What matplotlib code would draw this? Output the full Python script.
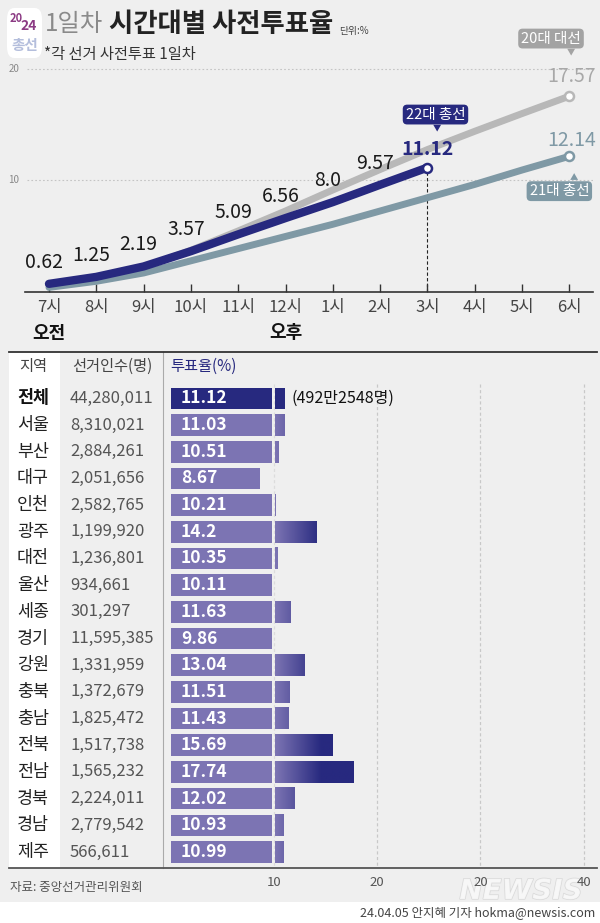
import numpy as np
import matplotlib
matplotlib.use('Agg')
import matplotlib.pyplot as plt
from matplotlib import transforms
from matplotlib.colors import LinearSegmentedColormap, Normalize
from matplotlib.patches import Rectangle, FancyBboxPatch
from matplotlib.lines import Line2D
import matplotlib.patheffects as pe

plt.rcParams['font.family'] = ['Noto Sans CJK KR', 'DejaVu Sans']

# 시간대별 사전투표율 (1일차, %)
hours = ['7시', '8시', '9시', '10시', '11시', '12시', '1시', '2시', '3시', '4시', '5시', '6시']
turnout_22 = [0.62, 1.25, 2.19, 3.57, 5.09, 6.56, 8.0, 9.57, 11.12]
turnout_20 = [0.55, 1.15, 2.1, 3.65, 5.4, 7.2, 9.1, 10.95, 12.75, 14.4, 16.0, 17.57]
turnout_21 = [0.3, 0.85, 1.6, 2.7, 3.8, 4.9, 6.0, 7.2, 8.4, 9.6, 10.9, 12.14]

# 지역별
regions = ['전체', '서울', '부산', '대구', '인천', '광주', '대전', '울산', '세종',
           '경기', '강원', '충북', '충남', '전북', '전남', '경북', '경남', '제주']
electors = [44280011, 8310021, 2884261, 2051656, 2582765, 1199920, 1236801, 934661, 301297,
            11595385, 1331959, 1372679, 1825472, 1517738, 1565232, 2224011, 2779542, 566611]
rates = [11.12, 11.03, 10.51, 8.67, 10.21, 14.2, 10.35, 10.11, 11.63,
         9.86, 13.04, 11.51, 11.43, 15.69, 17.74, 12.02, 10.93, 10.99]
total_voters = '(492만2548명)'
bar_ticks = [10, 20, 30, 40]
bar_tick_labels = ['10', '20', '20', '40']

NAVY = '#27297f'
LAVENDER = '#7c74b3'
GRAY = '#b8b8b8'
TEAL = '#7f99a5'
BG = '#efefef'

W, H = 600, 923


def fx(px):
    return px / W


def fy(py):
    return 1 - py / H


fig = plt.figure(figsize=(6, 9.23), dpi=100, facecolor=BG)

# backgrounds
fig.add_artist(Rectangle((0, 0), 1, (H - 901.7) / H, transform=fig.transFigure,
                         fc='white', ec='none', zorder=-2))
fig.add_artist(Rectangle((fx(9), fy(868)), fx(60) - fx(9), (868 - 352) / H,
                         transform=fig.transFigure, fc='white', ec='none', zorder=-2))

# header
fig.add_artist(FancyBboxPatch((fx(7), fy(58)), fx(35), 50 / H, transform=fig.transFigure,
                              boxstyle='round,pad=0,rounding_size=0.012', fc='white', ec='none'))
fig.text(fx(16), fy(19), '20', fontsize=8, fontweight='bold', color='#8c3b84', ha='center', va='center')
fig.text(fx(29), fy(26), '24', fontsize=10, fontweight='bold', color='#8c3b84', ha='center', va='center')
fig.text(fx(24.5), fy(45), '총선', fontsize=10.5, fontweight='bold', color='#b4bedc', ha='center', va='center')
fig.text(fx(45), fy(24), '1일차', fontsize=17.5, fontweight='light', color='#8a8a8a', va='center')
fig.text(fx(109), fy(24), '시간대별 사전투표율', fontsize=19, fontweight='bold', color='#222222', va='center')
fig.text(fx(339), fy(31), '단위:%', fontsize=7, color='#444444', va='center')
fig.text(fx(44), fy(55), '*각 선거 사전투표 1일차', fontsize=11, color='#333333', va='center')

# line chart
ax1 = fig.add_axes([fx(25), fy(291.7), fx(593) - fx(25), (291.7 - 60) / H])
ax1.set_facecolor('none')
x = np.arange(len(hours))
ax1.set_xlim(-0.507, 11.5)
ax1.set_ylim(-0.09, 20.84)
ax1.hlines([10, 20], -0.465, 11.5, colors='#c4c4c4', linestyles=(0, (1.5, 2)), lw=0.8, zorder=1)
for v in (10, 20):
    ax1.text(-0.02, v, str(v), transform=ax1.get_yaxis_transform(), ha='center', va='center',
             fontsize=7, color='#888888')

ax1.plot(x, turnout_20, color=GRAY, lw=5, solid_capstyle='round', solid_joinstyle='round', zorder=2)
ax1.plot(x, turnout_21, color=TEAL, lw=5, solid_capstyle='round', solid_joinstyle='round', zorder=3)
x22 = x[:len(turnout_22)]
ax1.plot(x22, turnout_22, color=NAVY, lw=6, solid_capstyle='round', solid_joinstyle='round', zorder=4)
ax1.vlines(x22[-1], -0.09, turnout_22[-1], colors='#222222', linestyles=(0, (3, 2)), lw=0.8, zorder=1)

for xs, ys, c in ((x, turnout_20, GRAY), (x, turnout_21, TEAL), (x22, turnout_22, NAVY)):
    ax1.plot(xs[-1], ys[-1], 'o', ms=6.5, mfc='white', mec=c, mew=1.8, zorder=6)

for xi, v in zip(x22[:-1], turnout_22[:-1]):
    ax1.annotate(str(v), (xi, v), xytext=(-3.6, 15.5), textcoords='offset points',
                 ha='center', va='center', fontsize=14, color='#1a1a1a')
ax1.annotate(str(turnout_22[-1]), (x22[-1], turnout_22[-1]), xytext=(0, 12.8), textcoords='offset points',
             ha='center', va='center', fontsize=14, color=NAVY, fontweight='bold')
ax1.annotate(str(turnout_20[-1]), (x[-1], turnout_20[-1]), xytext=(1.5, 14), textcoords='offset points',
             ha='center', va='center', fontsize=14, color='#a8a8a8')
ax1.annotate(str(turnout_21[-1]), (x[-1], turnout_21[-1]), xytext=(1.5, 11.5), textcoords='offset points',
             ha='center', va='center', fontsize=14, color=TEAL)


def tag(text, xy, box_off, tip_off, color, tip):
    ax1.annotate(text, xy, xytext=box_off, textcoords='offset points', ha='center', va='center',
                 fontsize=10.5, color='white', zorder=7,
                 bbox=dict(boxstyle='round,pad=0.2,rounding_size=0.3', fc=color, ec='none'))
    ax1.annotate(tip, xy, xytext=tip_off, textcoords='offset points', ha='center', va='center',
                 fontsize=6, color=color, zorder=7)


tag('22대 총선', (x22[-1], turnout_22[-1]), (5.8, 38.2), (7.2, 28.5), NAVY, '▼')
tag('20대 대선', (x[-1], turnout_20[-1]), (-13.2, 41.5), (1.2, 31.5), '#a3a3a3', '▼')
tag('21대 총선', (x[-1], turnout_21[-1]), (-7.2, -25.1), (3.4, -15.5), TEAL, '▲')

ax1.set_xticks(x, hours)
ax1.set_yticks([])
ax1.tick_params(axis='x', direction='in', length=6, width=1, color='#333333',
                labelsize=12, labelcolor='#444444', pad=5)
for s in ('left', 'right', 'top'):
    ax1.spines[s].set_visible(False)
ax1.spines['bottom'].set_color('#333333')
ax1.spines['bottom'].set_linewidth(1.2)

ampm = transforms.blended_transform_factory(ax1.transData, fig.transFigure)
ax1.text(0, fy(333), '오전', transform=ampm, ha='center', va='center', fontsize=13, fontweight='bold', color='#111111')
ax1.text(5, fy(333), '오후', transform=ampm, ha='center', va='center', fontsize=13, fontweight='bold', color='#111111')

# bar table
ax2 = fig.add_axes([fx(163), fy(868), fx(597) - fx(163), (868 - 352) / H])
ax2.set_facecolor('none')
grad_cmap = LinearSegmentedColormap.from_list('grad', [LAVENDER, NAVY])
grad_norm = Normalize(10.15, 14.6)
bh = 0.81
for i, v in enumerate(rates):
    c = NAVY if i == 0 else LAVENDER
    ax2.barh(i, min(v, 9.82), height=bh, color=c, zorder=2)
    if v > 10.15:
        if i == 0:
            ax2.barh(i, v - 10.15, left=10.15, height=bh, color=NAVY, zorder=2)
        else:
            g = np.linspace(10.15, v, 64).reshape(1, -1)
            ax2.imshow(g, cmap=grad_cmap, norm=grad_norm, extent=(10.15, v, i + bh / 2, i - bh / 2),
                       aspect='auto', interpolation='bilinear', zorder=2)
    ax2.text(1.0, i, str(v), color='white', fontsize=12.5, fontweight='bold', va='center', ha='left', zorder=3)

ax2.vlines(bar_ticks, -0.55, 17.6, colors=['#dcdcdc', '#c8c8c8', '#c8c8c8', '#c8c8c8'],
           linestyles=(0, (2.5, 2)), lw=0.9, zorder=1)
ax2.text(11.66, 0, total_voters, fontsize=11.5, color='#111111', va='center', ha='left')

ax2.set_xlim(-0.746, 41.3)
ax2.set_ylim(17.6, -1.739)

rows = transforms.blended_transform_factory(fig.transFigure, ax2.transData)
for i, (r, n) in enumerate(zip(regions, electors)):
    ax2.text(fx(17), i, r, transform=rows, ha='left', va='center', fontsize=12.5,
             color='#111111' if i == 0 else '#222222', fontweight='bold' if i == 0 else 'normal')
    ax2.text(fx(70), i, f'{n:,}', transform=rows, ha='left', va='center', fontsize=12, color='#555555')
ax2.text(fx(19), -1.19, '지역', transform=rows, ha='left', va='center', fontsize=11, color='#444444')
ax2.text(fx(72), -1.19, '선거인수(명)', transform=rows, ha='left', va='center', fontsize=11, color='#444444')
ax2.text(0.0, -1.19, '투표율(%)', ha='left', va='center', fontsize=11, color=NAVY)

ax2.set_xticks(bar_ticks, bar_tick_labels)
ax2.set_yticks([])
ax2.tick_params(axis='x', length=0, pad=6, labelsize=9.5, labelcolor='#555555')
for s in ('right', 'top', 'bottom'):
    ax2.spines[s].set_visible(False)
ax2.spines['left'].set_color('#aaaaaa')
ax2.spines['left'].set_linewidth(0.8)

fig.add_artist(Line2D([fx(9), fx(597)], [fy(352), fy(352)], transform=fig.transFigure, color='#333333', lw=1.3))
fig.add_artist(Line2D([fx(9), fx(597)], [fy(868), fy(868)], transform=fig.transFigure, color='#555555', lw=1.3))

# footer
fig.text(fx(10), fy(887), '자료: 중앙선거관리위원회', fontsize=9, color='#555555', va='center')
fig.text(fx(521), fy(891), 'NEWSIS', fontsize=20, fontweight='bold', fontstyle='italic', color='#f8f8f8',
         ha='center', va='center', family='DejaVu Sans', alpha=0.85, zorder=-1,
         path_effects=[pe.withStroke(linewidth=1.0, foreground='#d4d4d4')])
fig.text(fx(595), fy(913), '24.04.05 안지혜 기자 hokma@newsis.com', fontsize=9, color='#444444',
         ha='right', va='center')

fig.savefig('out.png', dpi=100, facecolor=BG)
